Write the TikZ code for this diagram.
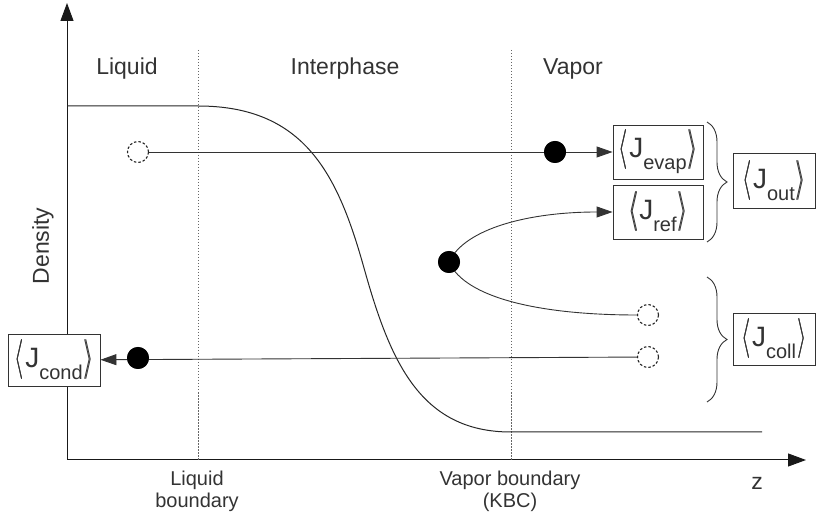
\documentclass[tikz,border=0pt]{standalone}
\usepackage{fontspec}
\setmainfont{Liberation Sans}
\usetikzlibrary{arrows.meta,decorations.pathreplacing}

% tall angle brackets around a flux symbol (set twice, slightly offset, for a heavier stroke)
\newcommand\anglone[1]{\scalebox{2.4}[4]{$#1$}}
\newcommand\angl[1]{\raisebox{-2pt}{\rlap{\anglone{#1}}\kern0.6pt\anglone{#1}}}
\newcommand\flux[1]{\angl{\langle}\kern1pt{\fontsize{28}{28}\selectfont J}\raisebox{-12pt}{\fontsize{20}{20}\selectfont #1}\kern1pt\angl{\rangle}}

\definecolor{ink}{HTML}{333333}

\begin{document}
\begin{tikzpicture}[x=1pt,y=-1pt,
  every node/.style={text=ink},
  axis/.style={draw=black!90,line width=1pt,-{Triangle[length=18pt,width=13pt]}},
  bound/.style={draw=black!60,line width=0.9pt,dash pattern=on 1.5pt off 1.5pt},
  flow/.style={draw=black!80,line width=0.9pt,-{Triangle[length=16pt,width=11pt]}},
  curveline/.style={draw=black!85,line width=1pt},
  dot/.style={circle,fill=black,inner sep=0pt,minimum size=22pt},
  ghost/.style={circle,draw=black!85,dash pattern=on 2.5pt off 2pt,line width=1.1pt,inner sep=0pt,minimum size=21pt},
  jbox/.style={draw=black!80,line width=0.9pt,fill=white,inner sep=0pt,minimum height=54pt},
  region/.style={font=\fontsize{23}{26}\selectfont},
  small/.style={font=\fontsize{20}{22}\selectfont,align=center},
  brace/.style={draw=black!80,line width=0.9pt,decorate,decoration={brace,amplitude=20pt}}
]
\useasboundingbox (0,0) rectangle (817,518);

% axes
\coordinate (O) at (67,460);
\coordinate (ytop) at (67,3);
\coordinate (xend) at (806,460);
\draw[axis] (O) -- (ytop);
\draw[axis] (O) -- (xend);

% phase boundaries
\coordinate (lbt) at (198,50);
\coordinate (lbb) at (198,460);
\coordinate (vbt) at (511,50);
\coordinate (vbb) at (511,460);
\draw[bound] (lbt) -- (lbb);
\draw[bound] (vbt) -- (vbb);

% region and axis labels
\node[region] (liq) at (127,69) {Liquid};
\node[region] (inter) at (345,69) {Interphase};
\node[region] (vap) at (573,69) {Vapor};
\node[region,rotate=90] (dens) at (43,246) {Density};
\node[region] (zlab) at (757,483) {z};
\node[small] (lbl) at (197,491) {Liquid\\boundary};
\node[small] (vbl) at (510,491) {Vapor boundary\\(KBC)};

% density profile
\coordinate (p0) at (67,106);
\coordinate (p1) at (198,106);
\coordinate (pm) at (364,268);
\coordinate (p2) at (511,432);
\coordinate (p3) at (762,432);
\draw[curveline] (p0) -- (p1)
  .. controls (305,106) and (338,175) .. (pm)
  .. controls (390,361) and (420,432) .. (p2) -- (p3);

% flux boxes
\node[jbox,minimum width=90pt] (evap) at (658,152) {\flux{evap}};
\node[jbox,minimum width=90pt] (ref) at (658,212) {\flux{ref}};
\node[jbox,minimum width=82pt,minimum height=55pt] (out) at (774,181) {\flux{out}};
\node[jbox,minimum width=82pt,minimum height=52pt] (coll) at (774,339) {\flux{coll}};
\node[jbox,minimum width=92pt,minimum height=52pt] (cond) at (54,360) {\flux{cond}};

% molecules
\node[ghost] (s1) at (138,152) {};
\node[ghost] (s2) at (648,315) {};
\node[ghost] (s3) at (648,357) {};
\node[dot] (m1) at (555,152) {};
\node[dot] (m2) at (449,262) {};
\node[dot] (m3) at (138,358) {};

% trajectories
\draw[flow] (s1) -- (evap);
\draw[flow] (m2.center) .. controls (465,228) and (530,212) .. (ref.west);
\draw[curveline,draw=black!80,line width=0.9pt] (m2.center) .. controls (465,298) and (540,315) .. (s2);
\draw[flow] (s3) -- (cond);
\node[dot] at (m1) {};
\node[dot] at (m2) {};
\node[dot] at (m3) {};

% grouping braces
\coordinate (b1t) at (707,122);
\coordinate (b1b) at (707,242);
\coordinate (b2t) at (707,277);
\coordinate (b2b) at (707,402);
\draw[brace] (b1t) -- (b1b);
\draw[brace] (b2t) -- (b2b);
\end{tikzpicture}
\end{document}
